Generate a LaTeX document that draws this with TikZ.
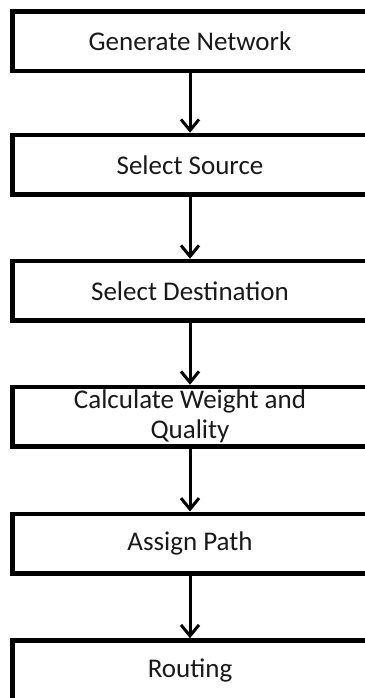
\documentclass[tikz,border=0pt]{standalone}
\usepackage{fontspec}
\setmainfont{Carlito}
\usetikzlibrary{arrows.meta}
\begin{document}
\begin{tikzpicture}[x=1pt,y=-1pt,
  stepbox/.style={draw=black, line width=4.5pt, minimum width=355pt, minimum height=59.5pt,
    inner sep=0pt, font=\fontsize{27}{30}\selectfont, align=center, text=black!90},
  flow/.style={line width=3pt, -{Straight Barb[length=11pt,width=18pt,line width=3pt]}}]
\useasboundingbox (0,0) rectangle (364,698);
\node[stepbox] (n1) at (190,41.25) {Generate Network};
\node[stepbox] (n2) at (190,164.75) {Select Source};
\node[stepbox] (n3) at (190,290.75) {Select Destination};
\node[stepbox] (n4) at (190,416.75) {Calculate Weight and\\Quality};
\node[stepbox] (n5) at (190,543.5) {Assign Path};
\node[stepbox] (n6) at (190,670.25) {Routing};
\draw[flow] (n1) -- (n2);
\draw[flow] (n2) -- (n3);
\draw[flow] (n3) -- (n4);
\draw[flow] (n4) -- (n5);
\draw[flow] (n5) -- (n6);
\end{tikzpicture}
\end{document}
